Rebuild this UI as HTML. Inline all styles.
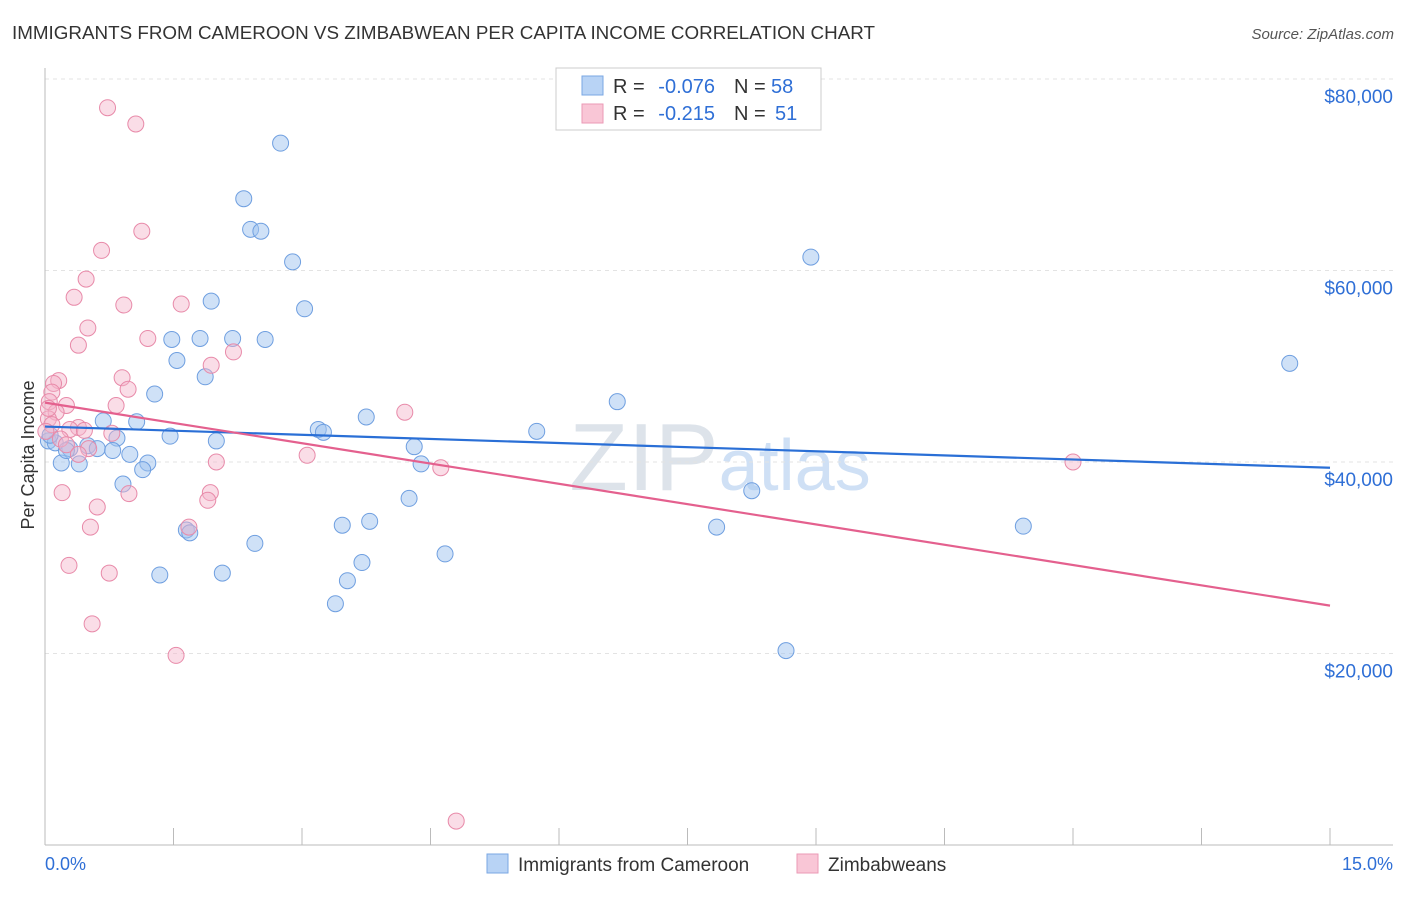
<!DOCTYPE html>
<html><head><meta charset="utf-8"><style>
body{margin:0;background:#fff;font-family:"Liberation Sans",sans-serif;}
svg text{font-family:"Liberation Sans",sans-serif;}
</style></head><body>
<svg id="chart" width="1406" height="892">
<text x="12" y="39" font-size="18" fill="#333" textLength="863" lengthAdjust="spacingAndGlyphs">IMMIGRANTS FROM CAMEROON VS ZIMBABWEAN PER CAPITA INCOME CORRELATION CHART</text>
<text x="1394" y="39" font-size="15" fill="#555" text-anchor="end" font-style="italic">Source: ZipAtlas.com</text>
<text x="34" y="455" font-size="18" fill="#333" transform="rotate(-90 34 455)" text-anchor="middle">Per Capita Income</text>
<text x="720" y="490" font-size="96" fill="#dde3ea" text-anchor="middle" font-family="Liberation Serif">ZIP<tspan font-size="72" fill="#cfe0f5" font-family="Liberation Sans">atlas</tspan></text>
<g id="grid"></g><g id="pts"></g><g id="lines"></g>
<g>
<rect x="556" y="68" width="265" height="62" fill="#fff" stroke="#ccc"/>
<rect x="582" y="76" width="21" height="19" fill="#b8d3f5" stroke="#7aa7e3"/>
<rect x="582" y="104" width="21" height="19" fill="#f9c6d6" stroke="#eb9ab6"/>
<text x="613" y="93" font-size="20" fill="#333">R =</text>
<text x="715" y="93" font-size="20" fill="#2f6fd6" text-anchor="end">-0.076</text>
<text x="734" y="93" font-size="20" fill="#333">N =</text>
<text x="771" y="93" font-size="20" fill="#2f6fd6">58</text>
<text x="613" y="120" font-size="20" fill="#333">R =</text>
<text x="715" y="120" font-size="20" fill="#2f6fd6" text-anchor="end">-0.215</text>
<text x="734" y="120" font-size="20" fill="#333">N =</text>
<text x="775" y="120" font-size="20" fill="#2f6fd6">51</text>
</g>
<g>
<rect x="487" y="854" width="21" height="19" fill="#b8d3f5" stroke="#7aa7e3"/>
<text x="518" y="871" font-size="19" fill="#333">Immigrants from Cameroon</text>
<rect x="797" y="854" width="21" height="19" fill="#f9c6d6" stroke="#eb9ab6"/>
<text x="828" y="871" font-size="19" fill="#333">Zimbabweans</text>
</g>
<text x="45" y="870" font-size="18" fill="#2f6fd6">0.0%</text>
<text x="1393" y="870" font-size="18" fill="#2f6fd6" text-anchor="end">15.0%</text>
</svg>
<script>
const yTicks=[20000,40000,60000,80000];
const yTickLabels=["$20,000","$40,000","$60,000","$80,000"];
const blueX=[2.75,2.32,2.40,2.52,2.89,8.94,1.94,3.03,1.48,1.81,2.19,2.57,1.54,1.87,1.28,14.53,6.68,3.75,0.68,1.07,3.19,3.25,5.74,1.46,0.84,2.0,4.31,0.04,0.12,0.29,0.50,0.61,0.79,0.99,4.39,0.19,0.40,1.20,1.14,0.91,8.25,4.25,3.79,3.47,7.84,11.42,1.65,1.69,2.45,4.67,3.70,3.53,1.34,2.07,3.39,8.65,0.06,0.25];
const blueY=[73300,67500,64300,64100,60900,61400,56800,56000,52800,52900,52900,52800,50600,48900,47100,50300,46300,44700,44300,44200,43400,43100,43200,42700,42500,42200,41600,42200,42000,41400,41700,41400,41200,40800,39800,39900,39800,39900,39200,37700,37000,36200,33800,33400,33200,33300,32900,32600,31500,30400,29500,27600,28200,28400,25200,20300,42800,41200];
const pinkX=[0.73,1.06,1.13,0.66,0.48,0.34,0.92,1.59,0.5,1.2,0.39,2.2,1.94,0.9,0.16,0.1,0.97,0.08,0.05,0.25,0.83,0.13,4.2,0.04,0.08,0.39,0.29,0.46,0.78,0.01,0.18,0.25,0.51,0.39,3.06,2.0,4.62,12.0,0.2,0.98,1.93,1.9,1.68,0.61,0.53,0.28,0.75,0.55,1.53,4.8,0.04];
const pinkY=[77000,75300,64100,62100,59100,57200,56400,56500,54000,52900,52200,51500,50100,48800,48500,48200,47600,47300,46300,45900,45900,45200,45200,44500,43900,43600,43400,43300,43000,43200,42400,41800,41400,40800,40700,40000,39400,40000,36800,36700,36800,36000,33200,35300,33200,29200,28400,23100,19800,2500,45600];
const blueLine=[43700,39400];
const pinkLine=[46200,25000];
const X=p=>45+p/15*1285, Y=v=>845-v/20000*191.5;
const NS="http://www.w3.org/2000/svg";
const mk=(t,a,p)=>{const e=document.createElementNS(NS,t);for(const k in a)e.setAttribute(k,a[k]);p.appendChild(e);return e;};
const g=document.getElementById('grid');
yTicks.forEach((v,i)=>{
 const l=mk('line',{x1:45,x2:1393,y1:Y(v),y2:Y(v),stroke:'#e3e3e3','stroke-dasharray':'4,4'},g);
 
 
 const t=mk('text',{x:1393,y:Y(v)+24,'font-size':19,fill:'#2f6fd6','text-anchor':'end'},g);
 t.textContent=yTickLabels[i];
 
 
});
const ax=mk('line',{x1:45,x2:1393,y1:845,y2:845,stroke:'#bbb'},g);


const ay=mk('line',{x1:45,x2:45,y1:68,y2:845,stroke:'#bbb'},g);


for(let i=1;i<=10;i++){const tk=mk('line',{x1:X(i*1.5),x2:X(i*1.5),y1:828,y2:845,stroke:'#bbb'},g);
 
 }
const pg=document.getElementById('pts');
blueX.forEach((x,i)=>{const c=mk('circle',{cx:X(x),cy:Y(blueY[i]),r:8,fill:'rgba(160,195,240,0.5)',stroke:'#6f9fe0','stroke-width':1},pg);
 
 });
pinkX.forEach((x,i)=>{const c=mk('circle',{cx:X(x),cy:Y(pinkY[i]),r:8,fill:'rgba(245,180,202,0.45)',stroke:'#e88aa9','stroke-width':1},pg);
 
 });
const lg=document.getElementById('lines');
const bl=mk('line',{x1:X(0),x2:X(15),y1:Y(blueLine[0]),y2:Y(blueLine[1]),stroke:'#2a6fd6','stroke-width':2.2},lg);


const pl=mk('line',{x1:X(0),x2:X(15),y1:Y(pinkLine[0]),y2:Y(pinkLine[1]),stroke:'#e4608e','stroke-width':2.2},lg);


</script>
</body></html>
